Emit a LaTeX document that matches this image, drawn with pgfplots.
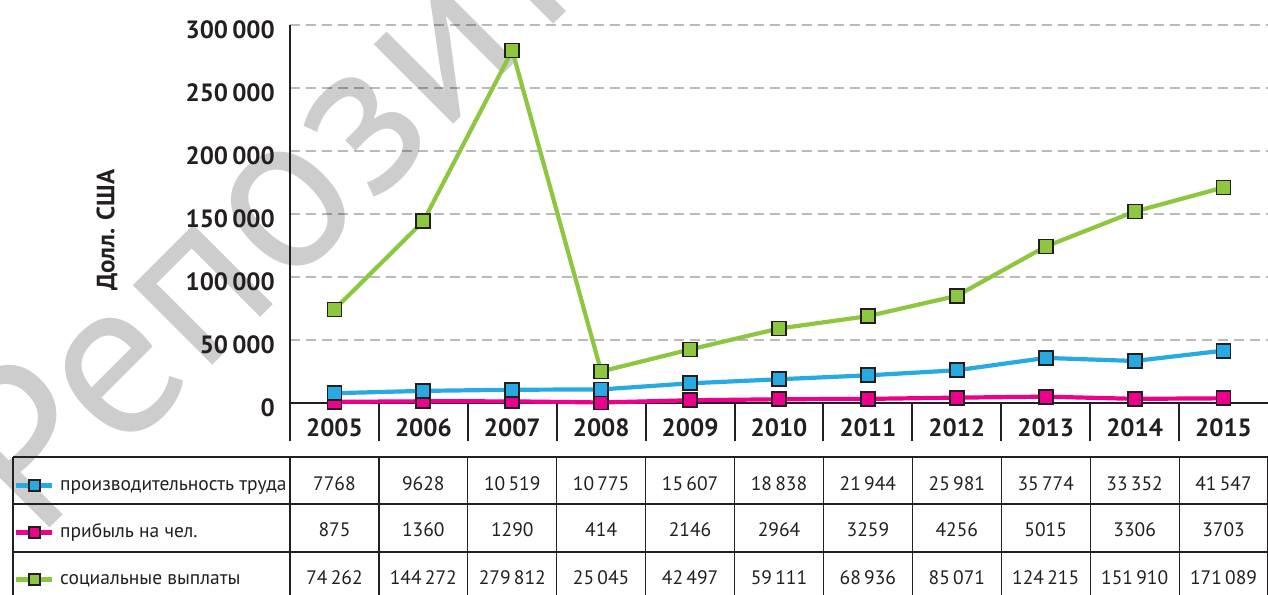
\documentclass[border=0pt]{standalone}
\usepackage{pgfplots}
\pgfplotsset{compat=1.18}
\usepackage{pgfplotstable}
\usepackage{fontspec}
\setmainfont{PT Sans}
\definecolor{cblue}{HTML}{27AAE1}
\definecolor{cpink}{HTML}{EC008C}
\definecolor{cgreen}{HTML}{8DC63F}
\definecolor{cdark}{HTML}{231F20}
\definecolor{wm}{HTML}{CDCDCD}

\pgfplotstableread{
x blue pink green
0 7768 875 74262
1 9628 1360 144272
2 10519 1290 279812
3 10775 414 25045
4 15607 2146 42497
5 18838 2964 59111
6 21944 3259 68936
7 25981 4256 85071
8 35774 5015 124215
9 33352 3306 151910
10 41547 3703 171089
}\datatable

\pgfplotsset{
  sblue/.style={cblue, line width=4.2pt, mark=square*, mark size=7pt, mark options={fill=cblue, draw=cdark, line width=1.8pt, solid}},
  spink/.style={cpink, line width=4.2pt, mark=square*, mark size=7pt, mark options={fill=cpink, draw=cdark, line width=1.8pt, solid}},
  sgreen/.style={cgreen, line width=4.2pt, mark=square*, mark size=7pt, mark options={fill=cgreen, draw=cdark, line width=1.8pt, solid}},
}

\begin{document}
\begin{tikzpicture}
% watermark
\node[rotate=45, text=wm, font=\fontsize{225}{225}\selectfont, inner sep=0pt] at (155pt,351pt) {Репозиторий};
\begin{axis}[
  at={(0pt,0pt)}, anchor=south west,
  scale only axis, width=978pt, height=378pt,
  xmin=-0.5, xmax=10.5, ymin=0, ymax=300000,
  clip=false,
  axis line style={draw=none},
  major tick length=0pt,
  xtick={0,1,2,3,4,5,6,7,8,9,10},
  xticklabels={2005,2006,2007,2008,2009,2010,2011,2012,2013,2014,2015},
  xticklabel style={font=\fontsize{25}{25}\bfseries\selectfont, text=cdark, anchor=north, inner sep=0pt, yshift=-15.5pt},
  ytick={0,50000,100000,150000,200000,250000,300000},
  yticklabels={0,50\,000,100\,000,150\,000,200\,000,250\,000,300\,000},
  yticklabel style={font=\fontsize{25}{25}\bfseries\selectfont, text=cdark, anchor=east, inner sep=0pt, xshift=-15pt, yshift=-5pt},
  scaled y ticks=false,
  ymajorgrids,
  grid style={black, opacity=0.27, line width=2pt, dash pattern=on 10pt off 6pt},
  legend image code/.code={\path (0pt,0pt) -- (36pt,0pt); \draw[#1, line cap=round, mark repeat=2, mark phase=2, mark size=5.5pt] plot coordinates {(2pt,0pt) (18pt,0pt) (34pt,0pt)};},
  legend style={at={(-0.2822,-0.19312)}, anchor=north west, draw=none, fill=none, inner sep=0pt, outer sep=0pt,
    font=\fontsize{19.5}{19.5}\selectfont, text=cdark, row sep=28pt,
    nodes={inner sep=0pt, text height=14pt, text depth=5pt},
    /tikz/every odd column/.append style={column sep=6pt}},
  legend cell align=left,
]
\addlegendimage{sblue}
\addlegendimage{spink}
\addlegendimage{sgreen}
\draw[cdark, line width=2pt] (rel axis cs:0,1) -- (rel axis cs:0,0) -- ++(0pt,-38pt);
\draw[cdark, line width=2pt] (rel axis cs:0,0) -- (rel axis cs:1,0);
\addplot[spink, forget plot] table[x=x, y=pink] {\datatable};
\addplot[sblue, forget plot] table[x=x, y=blue] {\datatable};
\addplot[sgreen, forget plot] table[x=x, y=green] {\datatable};
\legend{производительность труда, прибыль на чел., социальные выплаты}
\end{axis}
% y label
\node[rotate=90, font=\fontsize{25}{25}\bfseries\selectfont, text=cdark] at (-183pt,173pt) {Долл. США};
% category separators
\foreach \k in {1,...,10} \draw[cdark, line width=2pt] ({\k*88.909pt},0pt) -- ({\k*88.909pt},-38pt);
% data table grid
\foreach \yy in {-54,-101,-149} \draw[cdark, line width=1.2pt] (-277pt,\yy pt) -- (980pt,\yy pt);
\draw[cdark, line width=1.2pt] (-277pt,-54pt) -- (-277pt,-200pt);
\foreach \k in {0,...,11} \draw[cdark, line width=1.2pt] ({\k*88.909pt},-54pt) -- ({\k*88.909pt},-200pt);
% table numbers
\begin{scope}[every node/.style={anchor=base, inner sep=0pt, text=cdark, font=\fontsize{19.5}{19.5}\selectfont}]
\foreach \v [count=\i from 0] in {7768,9628,10\,519,10\,775,15\,607,18\,838,21\,944,25\,981,35\,774,33\,352,41\,547}
  \node at ({(\i+0.5)*88.909pt},-87pt) {\v};
\foreach \v [count=\i from 0] in {875,1360,1290,414,2146,2964,3259,4256,5015,3306,3703}
  \node at ({(\i+0.5)*88.909pt},-133.7pt) {\v};
\foreach \v [count=\i from 0] in {74\,262,144\,272,279\,812,25\,045,42\,497,59\,111,68\,936,85\,071,124\,215,151\,910,171\,089}
  \node at ({(\i+0.5)*88.909pt},-181pt) {\v};
\end{scope}
\pgfresetboundingbox
\path[use as bounding box] (-290pt,-191pt) rectangle (978pt,403pt);
\end{tikzpicture}
\end{document}
